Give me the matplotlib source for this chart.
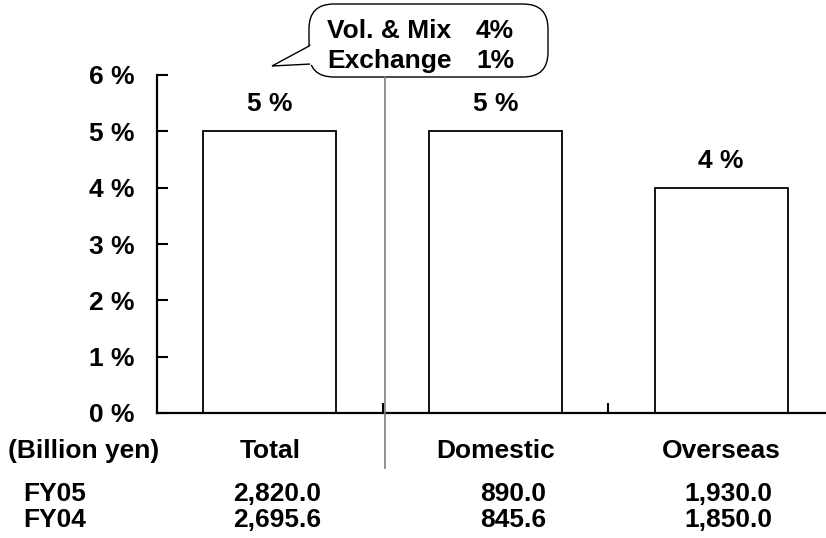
import matplotlib
matplotlib.use("Agg")
import matplotlib.pyplot as plt
from matplotlib.patches import FancyBboxPatch, Polygon
from matplotlib.lines import Line2D

plt.rcParams['font.family'] = ['Liberation Sans', 'DejaVu Sans']
plt.rcParams['font.weight'] = 'bold'

categories = ["Total", "Domestic", "Overseas"]
growth = [5, 5, 4]          # % change vs previous year
growth_labels = ["5 %", "5 %", "4 %"]
fy05 = ["2,820.0", "890.0", "1,930.0"]
fy04 = ["2,695.6", "845.6", "1,850.0"]
y_ticks = [0, 1, 2, 3, 4, 5, 6]
callout_rows = [("Vol. & Mix", "4%"), ("Exchange", "1%")]

W, H = 826, 538
fig = plt.figure(figsize=(W / 100, H / 100), dpi=100)


def px(x, y):
    # pixel coords measured from the top-left corner -> figure fraction
    return x / W, 1 - y / H


PT = 0.72   # points per pixel at dpi 100
FS = 19
ax = fig.add_axes([157 / W, (H - 413) / H, 677 / W, 338 / H])
xpos = list(range(len(categories)))
ax.bar(xpos, growth, width=0.59, color="white", edgecolor="black", linewidth=1.3)
for x, v, lab in zip(xpos, growth, growth_labels):
    ax.annotate(lab, (x, v), xytext=(0, 20 * PT), textcoords="offset points",
                ha="center", va="baseline", fontsize=FS, fontweight="bold")

ax.set_xlim(-0.5, 2.5)
ax.set_ylim(0, 6)
ax.set_yticks(y_ticks)
ax.set_yticklabels([f"{t} %" for t in y_ticks], fontsize=FS, fontweight="bold")
ax.tick_params(axis="y", direction="in", length=8, width=1.5, pad=16)
ax.set_xticks([0.5, 1.5])
ax.set_xticklabels([])
ax.tick_params(axis="x", direction="in", length=7, width=1.5)
for s in ["top", "right"]:
    ax.spines[s].set_visible(False)
for s in ["left", "bottom"]:
    ax.spines[s].set_linewidth(1.6)

# category names and yen amounts under the axis
for x, cat, a, b in zip(xpos, categories, fy05, fy04):
    ax.annotate(cat, (x, 1 - 458 / H), xycoords=("data", "figure fraction"),
                ha="center", va="baseline", fontsize=FS, fontweight="bold",
                annotation_clip=False)
    for txt, yb in [(a, 501), (b, 527)]:
        ax.annotate(txt, (x, 1 - yb / H), xycoords=("data", "figure fraction"),
                    xytext=(51 * PT, 0), textcoords="offset points",
                    ha="right", va="baseline", fontsize=FS, fontweight="bold",
                    annotation_clip=False)

fig.text(*px(8, 458), "(Billion yen)", ha="left", va="baseline", fontsize=FS, fontweight="bold")
fig.text(*px(23, 501), "FY05", ha="left", va="baseline", fontsize=FS, fontweight="bold")
fig.text(*px(23, 527), "FY04", ha="left", va="baseline", fontsize=FS, fontweight="bold")

# divider between total and breakdown
fig.add_artist(Line2D([385 / W, 385 / W], [1 - 77 / H, 1 - 468 / H],
                      color="#808080", linewidth=1.2))

# speech bubble
x0, y0 = px(309, 77)
box = FancyBboxPatch((x0, y0), 239 / W, 73 / H, transform=fig.transFigure,
                     boxstyle="round,pad=0,rounding_size=0.03",
                     facecolor="white", edgecolor="black", linewidth=1.0,
                     mutation_aspect=W / H)
fig.add_artist(box)
tail = [px(311, 45), px(272, 66), px(311, 64)]
fig.add_artist(Polygon(tail, closed=False, transform=fig.transFigure,
                       facecolor="white", edgecolor="black", linewidth=1.0))
fig.add_artist(Line2D([311 / W, 311 / W], [1 - 46 / H, 1 - 63 / H], color="white", linewidth=2))
for (name, val), yb in zip(callout_rows, [38, 68]):
    fig.text(*px(327, yb), name, ha="left", va="baseline", fontsize=FS, fontweight="bold")
    fig.text(*px(514, yb), val, ha="right", va="baseline", fontsize=FS, fontweight="bold")

fig.savefig("out.png", dpi=100)
